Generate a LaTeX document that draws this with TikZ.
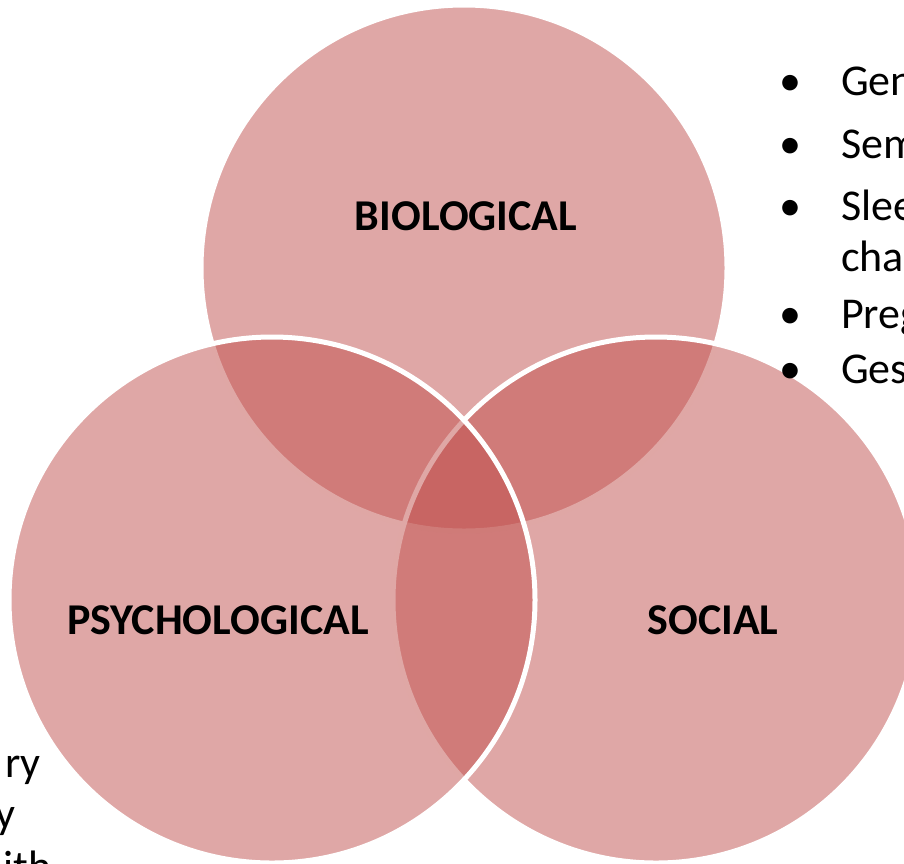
\documentclass[tikz,border=0pt]{standalone}
\usepackage{fontspec}
\setmainfont{Carlito}
\definecolor{vennred}{HTML}{C0504D}
\begin{document}
\begin{tikzpicture}[x=1pt,y=-1pt,
  venn/.style={fill=vennred,fill opacity=0.5,draw=white,draw opacity=1,line width=5pt},
  label/.style={font=\fontsize{44}{53}\selectfont\bfseries,text=black,inner sep=0pt},
  body/.style={font=\fontsize{44}{53}\selectfont,text=black,inner sep=0pt,anchor=base west},
  dot/.style={font=\fontsize{44}{53}\selectfont,text=black,inner sep=0pt,anchor=base}]
\clip (0,0) rectangle (904,863);
% three overlapping circles, later ones painted over earlier outlines
\path[venn] (464,268) circle[radius=263];
\path[venn] (656,600) circle[radius=263];
\path[venn] (272,600) circle[radius=263];
% circle titles
\node[label] (bio) at (466,216) {BIOLOGICAL};
\node[label] (psy) at (218,620) {PSYCHOLOGICAL};
\node[label] (soc) at (713,620) {SOCIAL};
% bullet list at the upper right
\node[dot] (b1) at (790,95) {•};
\node[body] (t1) at (841,95) {Gen};
\node[dot] (b2) at (790,158) {•};
\node[body] (t2) at (841,158) {Sem};
\node[dot] (b3) at (790,220) {•};
\node[body] (t3) at (841,220) {Slee};
\node[body] (t4) at (841,271) {cha};
\node[dot] (b5) at (790,328) {•};
\node[body] (t5) at (841,328) {Preg};
\node[dot] (b6) at (790,383) {•};
\node[body] (t6) at (841,383) {Ges};
% list text at the lower left
\node[body,anchor=base east] (l1) at (41,777) {ry};
\node[body,anchor=base east] (l2) at (16,828) {y};
\node[body] (l3) at (3,881) {ith};
\end{tikzpicture}
\end{document}
